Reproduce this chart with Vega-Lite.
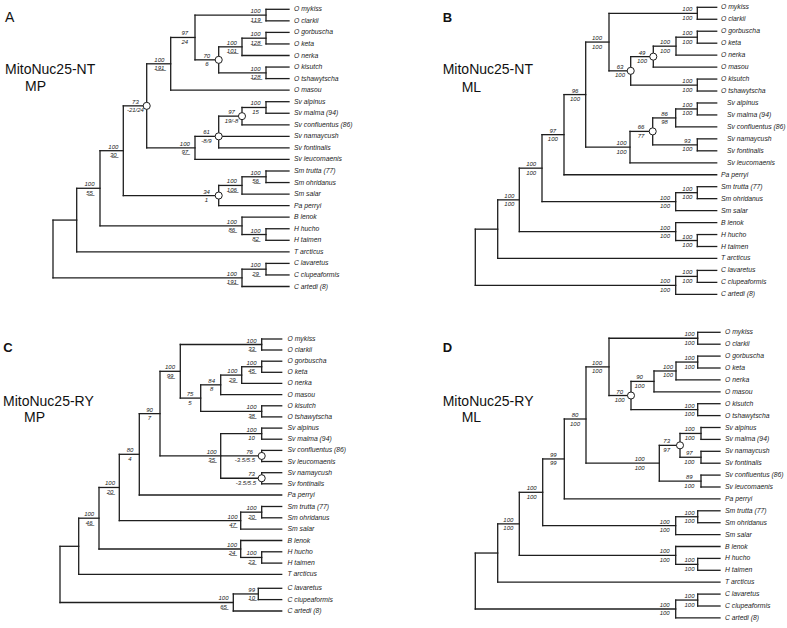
{
"$schema": "https://vega.github.io/schema/vega-lite/v6.json",
"width": 787, "height": 628,
"autosize": {"type": "fit", "contains": "padding"},
"padding": 0,
"background": "white",
"config": {"view": {"stroke": null}},
"datasets": {
"seg": [
{"x":266,"y":9.3,"x2":266,"y2":20.85},{"x":266,"y":9.3,"x2":289,"y2":9.3},{"x":266,"y":20.85,"x2":289,"y2":20.85},
{"x":266,"y":32.4,"x2":266,"y2":43.95},{"x":266,"y":32.4,"x2":289,"y2":32.4},{"x":266,"y":43.95,"x2":289,"y2":43.95},
{"x":242,"y":38.18,"x2":242,"y2":55.5},{"x":242,"y":38.18,"x2":266,"y2":38.18},{"x":242,"y":55.5,"x2":289,"y2":55.5},
{"x":266,"y":67.05,"x2":266,"y2":78.6},{"x":266,"y":67.05,"x2":289,"y2":67.05},{"x":266,"y":78.6,"x2":289,"y2":78.6},
{"x":218.7,"y":46.84,"x2":218.7,"y2":72.83},{"x":218.7,"y":46.84,"x2":242,"y2":46.84},{"x":218.7,"y":72.83,"x2":266,"y2":72.83},
{"x":195,"y":15.08,"x2":195,"y2":59.84},{"x":195,"y":15.08,"x2":266,"y2":15.08},{"x":195,"y":59.84,"x2":218.7,"y2":59.84},
{"x":170.7,"y":37.46,"x2":170.7,"y2":90.15},{"x":170.7,"y":37.46,"x2":195,"y2":37.46},{"x":170.7,"y":90.15,"x2":289,"y2":90.15},
{"x":266,"y":101.7,"x2":266,"y2":113.25},{"x":266,"y":101.7,"x2":289,"y2":101.7},{"x":266,"y":113.25,"x2":289,"y2":113.25},
{"x":242,"y":107.48,"x2":242,"y2":124.8},{"x":242,"y":107.48,"x2":266,"y2":107.48},{"x":242,"y":124.8,"x2":289,"y2":124.8},
{"x":218.7,"y":116.14,"x2":218.7,"y2":147.9},{"x":218.7,"y":116.14,"x2":242,"y2":116.14},{"x":218.7,"y":136.35,"x2":289,"y2":136.35},{"x":218.7,"y":147.9,"x2":289,"y2":147.9},
{"x":195,"y":136.35,"x2":195,"y2":159.45},{"x":195,"y":136.35,"x2":218.7,"y2":136.35},{"x":195,"y":159.45,"x2":289,"y2":159.45},
{"x":146.7,"y":63.8,"x2":146.7,"y2":147.9},{"x":146.7,"y":63.8,"x2":170.7,"y2":63.8},{"x":146.7,"y":147.9,"x2":195,"y2":147.9},
{"x":266,"y":171,"x2":266,"y2":182.55},{"x":266,"y":171,"x2":289,"y2":171},{"x":266,"y":182.55,"x2":289,"y2":182.55},
{"x":242,"y":176.78,"x2":242,"y2":194.1},{"x":242,"y":176.78,"x2":266,"y2":176.78},{"x":242,"y":194.1,"x2":289,"y2":194.1},
{"x":218.7,"y":185.44,"x2":218.7,"y2":205.65},{"x":218.7,"y":185.44,"x2":242,"y2":185.44},{"x":218.7,"y":205.65,"x2":289,"y2":205.65},
{"x":123.3,"y":105.85,"x2":123.3,"y2":195.55},{"x":123.3,"y":105.85,"x2":146.7,"y2":105.85},{"x":123.3,"y":195.55,"x2":218.7,"y2":195.55},
{"x":266,"y":228.75,"x2":266,"y2":240.3},{"x":266,"y":228.75,"x2":289,"y2":228.75},{"x":266,"y":240.3,"x2":289,"y2":240.3},
{"x":242,"y":217.2,"x2":242,"y2":234.53},{"x":242,"y":217.2,"x2":289,"y2":217.2},{"x":242,"y":234.53,"x2":266,"y2":234.53},
{"x":100,"y":150.7,"x2":100,"y2":225.86},{"x":100,"y":150.7,"x2":123.3,"y2":150.7},{"x":100,"y":225.86,"x2":242,"y2":225.86},
{"x":76.7,"y":188.28,"x2":76.7,"y2":251.85},{"x":76.7,"y":188.28,"x2":100,"y2":188.28},{"x":76.7,"y":251.85,"x2":289,"y2":251.85},
{"x":266,"y":263.4,"x2":266,"y2":274.95},{"x":266,"y":263.4,"x2":289,"y2":263.4},{"x":266,"y":274.95,"x2":289,"y2":274.95},
{"x":242,"y":269.18,"x2":242,"y2":286.5},{"x":242,"y":269.18,"x2":266,"y2":269.18},{"x":242,"y":286.5,"x2":289,"y2":286.5},
{"x":53,"y":220.07,"x2":53,"y2":277.84},{"x":53,"y":220.07,"x2":76.7,"y2":220.07},{"x":53,"y":277.84,"x2":242,"y2":277.84},

{"x":697.3,"y":7.3,"x2":697.3,"y2":19.26},{"x":697.3,"y":7.3,"x2":716.7,"y2":7.3},{"x":697.3,"y":19.26,"x2":716.7,"y2":19.26},
{"x":697.3,"y":31.22,"x2":697.3,"y2":43.18},{"x":697.3,"y":31.22,"x2":716.7,"y2":31.22},{"x":697.3,"y":43.18,"x2":716.7,"y2":43.18},
{"x":676,"y":37.2,"x2":676,"y2":55.14},{"x":676,"y":37.2,"x2":697.3,"y2":37.2},{"x":676,"y":55.14,"x2":716.7,"y2":55.14},
{"x":653.3,"y":46.17,"x2":653.3,"y2":67.1},{"x":653.3,"y":46.17,"x2":676,"y2":46.17},{"x":653.3,"y":67.1,"x2":716.7,"y2":67.1},
{"x":697.3,"y":79.06,"x2":697.3,"y2":91.02},{"x":697.3,"y":79.06,"x2":716.7,"y2":79.06},{"x":697.3,"y":91.02,"x2":716.7,"y2":91.02},
{"x":630.7,"y":56.64,"x2":630.7,"y2":85.04},{"x":630.7,"y":56.64,"x2":653.3,"y2":56.64},{"x":630.7,"y":85.04,"x2":697.3,"y2":85.04},
{"x":609,"y":13.28,"x2":609,"y2":70.84},{"x":609,"y":13.28,"x2":697.3,"y2":13.28},{"x":609,"y":70.84,"x2":630.7,"y2":70.84},
{"x":697.3,"y":102.98,"x2":697.3,"y2":114.94},{"x":697.3,"y":102.98,"x2":716.7,"y2":102.98},{"x":697.3,"y":114.94,"x2":716.7,"y2":114.94},
{"x":675.7,"y":108.96,"x2":675.7,"y2":126.9},{"x":675.7,"y":108.96,"x2":697.3,"y2":108.96},{"x":675.7,"y":126.9,"x2":716.7,"y2":126.9},
{"x":697.3,"y":138.86,"x2":697.3,"y2":150.82},{"x":697.3,"y":138.86,"x2":716.7,"y2":138.86},{"x":697.3,"y":150.82,"x2":716.7,"y2":150.82},
{"x":652.7,"y":117.93,"x2":652.7,"y2":144.84},{"x":652.7,"y":117.93,"x2":675.7,"y2":117.93},{"x":652.7,"y":144.84,"x2":697.3,"y2":144.84},
{"x":630,"y":131.39,"x2":630,"y2":162.78},{"x":630,"y":131.39,"x2":652.7,"y2":131.39},{"x":630,"y":162.78,"x2":716.7,"y2":162.78},
{"x":585.7,"y":42.06,"x2":585.7,"y2":147.09},{"x":585.7,"y":42.06,"x2":609,"y2":42.06},{"x":585.7,"y":147.09,"x2":630,"y2":147.09},
{"x":564,"y":94.57,"x2":564,"y2":174.74},{"x":564,"y":94.57,"x2":585.7,"y2":94.57},{"x":564,"y":174.74,"x2":716.7,"y2":174.74},
{"x":697.3,"y":186.7,"x2":697.3,"y2":198.66},{"x":697.3,"y":186.7,"x2":716.7,"y2":186.7},{"x":697.3,"y":198.66,"x2":716.7,"y2":198.66},
{"x":675.7,"y":192.68,"x2":675.7,"y2":210.62},{"x":675.7,"y":192.68,"x2":697.3,"y2":192.68},{"x":675.7,"y":210.62,"x2":716.7,"y2":210.62},
{"x":542,"y":134.66,"x2":542,"y2":201.65},{"x":542,"y":134.66,"x2":564,"y2":134.66},{"x":542,"y":201.65,"x2":675.7,"y2":201.65},
{"x":697.3,"y":234.54,"x2":697.3,"y2":246.5},{"x":697.3,"y":234.54,"x2":716.7,"y2":234.54},{"x":697.3,"y":246.5,"x2":716.7,"y2":246.5},
{"x":675.7,"y":222.58,"x2":675.7,"y2":240.52},{"x":675.7,"y":222.58,"x2":716.7,"y2":222.58},{"x":675.7,"y":240.52,"x2":697.3,"y2":240.52},
{"x":519.3,"y":168.16,"x2":519.3,"y2":231.55},{"x":519.3,"y":168.16,"x2":542,"y2":168.16},{"x":519.3,"y":231.55,"x2":675.7,"y2":231.55},
{"x":497.7,"y":199.86,"x2":497.7,"y2":258.46},{"x":497.7,"y":199.86,"x2":519.3,"y2":199.86},{"x":497.7,"y":258.46,"x2":716.7,"y2":258.46},
{"x":697.3,"y":270.42,"x2":697.3,"y2":282.38},{"x":697.3,"y":270.42,"x2":716.7,"y2":270.42},{"x":697.3,"y":282.38,"x2":716.7,"y2":282.38},
{"x":675.7,"y":276.4,"x2":675.7,"y2":294.34},{"x":675.7,"y":276.4,"x2":697.3,"y2":276.4},{"x":675.7,"y":294.34,"x2":716.7,"y2":294.34},
{"x":475.3,"y":229.16,"x2":475.3,"y2":285.37},{"x":475.3,"y":229.16,"x2":497.7,"y2":229.16},{"x":475.3,"y":285.37,"x2":675.7,"y2":285.37},

{"x":261.7,"y":339,"x2":261.7,"y2":350},{"x":261.7,"y":339,"x2":281.7,"y2":339},{"x":261.7,"y":350,"x2":281.7,"y2":350},
{"x":261.7,"y":361.2,"x2":261.7,"y2":372.3},{"x":261.7,"y":361.2,"x2":281.7,"y2":361.2},{"x":261.7,"y":372.3,"x2":281.7,"y2":372.3},
{"x":241.7,"y":366.75,"x2":241.7,"y2":383.4},{"x":241.7,"y":366.75,"x2":261.7,"y2":366.75},{"x":241.7,"y":383.4,"x2":281.7,"y2":383.4},
{"x":220.7,"y":375.08,"x2":220.7,"y2":394.6},{"x":220.7,"y":375.08,"x2":241.7,"y2":375.08},{"x":220.7,"y":394.6,"x2":281.7,"y2":394.6},
{"x":261.7,"y":405.8,"x2":261.7,"y2":416.9},{"x":261.7,"y":405.8,"x2":281.7,"y2":405.8},{"x":261.7,"y":416.9,"x2":281.7,"y2":416.9},
{"x":200.7,"y":384.84,"x2":200.7,"y2":411.35},{"x":200.7,"y":384.84,"x2":220.7,"y2":384.84},{"x":200.7,"y":411.35,"x2":261.7,"y2":411.35},
{"x":180.3,"y":344.5,"x2":180.3,"y2":398.1},{"x":180.3,"y":344.5,"x2":261.7,"y2":344.5},{"x":180.3,"y":398.1,"x2":200.7,"y2":398.1},
{"x":261.7,"y":428.1,"x2":261.7,"y2":439.2},{"x":261.7,"y":428.1,"x2":281.7,"y2":428.1},{"x":261.7,"y":439.2,"x2":281.7,"y2":439.2},
{"x":261.7,"y":450.4,"x2":261.7,"y2":461.5},{"x":261.7,"y":450.4,"x2":281.7,"y2":450.4},{"x":261.7,"y":461.5,"x2":281.7,"y2":461.5},
{"x":261.7,"y":472.7,"x2":261.7,"y2":483.8},{"x":261.7,"y":472.7,"x2":281.7,"y2":472.7},{"x":261.7,"y":483.8,"x2":281.7,"y2":483.8},
{"x":220.7,"y":433.65,"x2":220.7,"y2":478.25},{"x":220.7,"y":433.65,"x2":261.7,"y2":433.65},{"x":220.7,"y":455.95,"x2":261.7,"y2":455.95},{"x":220.7,"y":478.25,"x2":261.7,"y2":478.25},
{"x":160,"y":371.3,"x2":160,"y2":455.95},{"x":160,"y":371.3,"x2":180.3,"y2":371.3},{"x":160,"y":455.95,"x2":220.7,"y2":455.95},
{"x":139.3,"y":413.63,"x2":139.3,"y2":495},{"x":139.3,"y":413.63,"x2":160,"y2":413.63},{"x":139.3,"y":495,"x2":281.7,"y2":495},
{"x":261.7,"y":506.5,"x2":261.7,"y2":517.8},{"x":261.7,"y":506.5,"x2":281.7,"y2":506.5},{"x":261.7,"y":517.8,"x2":281.7,"y2":517.8},
{"x":240.7,"y":512.15,"x2":240.7,"y2":529.1},{"x":240.7,"y":512.15,"x2":261.7,"y2":512.15},{"x":240.7,"y":529.1,"x2":281.7,"y2":529.1},
{"x":119.3,"y":454.3,"x2":119.3,"y2":520.63},{"x":119.3,"y":454.3,"x2":139.3,"y2":454.3},{"x":119.3,"y":520.63,"x2":240.7,"y2":520.63},
{"x":261.7,"y":551.8,"x2":261.7,"y2":563.1},{"x":261.7,"y":551.8,"x2":281.7,"y2":551.8},{"x":261.7,"y":563.1,"x2":281.7,"y2":563.1},
{"x":240.7,"y":540.5,"x2":240.7,"y2":557.45},{"x":240.7,"y":540.5,"x2":281.7,"y2":540.5},{"x":240.7,"y":557.45,"x2":261.7,"y2":557.45},
{"x":99,"y":487.47,"x2":99,"y2":548.98},{"x":99,"y":487.47,"x2":119.3,"y2":487.47},{"x":99,"y":548.98,"x2":240.7,"y2":548.98},
{"x":78.7,"y":518.2,"x2":78.7,"y2":574.4},{"x":78.7,"y":518.2,"x2":99,"y2":518.2},{"x":78.7,"y":574.4,"x2":281.7,"y2":574.4},
{"x":258.3,"y":588.3,"x2":258.3,"y2":599.6},{"x":258.3,"y":588.3,"x2":281.7,"y2":588.3},{"x":258.3,"y":599.6,"x2":281.7,"y2":599.6},
{"x":233.3,"y":593.95,"x2":233.3,"y2":611},{"x":233.3,"y":593.95,"x2":258.3,"y2":593.95},{"x":233.3,"y":611,"x2":281.7,"y2":611},
{"x":60,"y":546.3,"x2":60,"y2":602.48},{"x":60,"y":546.3,"x2":78.7,"y2":546.3},{"x":60,"y":602.48,"x2":233.3,"y2":602.48},

{"x":697.7,"y":332.3,"x2":697.7,"y2":344.2},{"x":697.7,"y":332.3,"x2":720,"y2":332.3},{"x":697.7,"y":344.2,"x2":720,"y2":344.2},
{"x":697.7,"y":356.1,"x2":697.7,"y2":368},{"x":697.7,"y":356.1,"x2":720,"y2":356.1},{"x":697.7,"y":368,"x2":720,"y2":368},
{"x":676,"y":362.05,"x2":676,"y2":379.9},{"x":676,"y":362.05,"x2":697.7,"y2":362.05},{"x":676,"y":379.9,"x2":720,"y2":379.9},
{"x":654,"y":370.98,"x2":654,"y2":391.8},{"x":654,"y":370.98,"x2":676,"y2":370.98},{"x":654,"y":391.8,"x2":720,"y2":391.8},
{"x":697.7,"y":403.7,"x2":697.7,"y2":415.6},{"x":697.7,"y":403.7,"x2":720,"y2":403.7},{"x":697.7,"y":415.6,"x2":720,"y2":415.6},
{"x":631,"y":381.39,"x2":631,"y2":409.65},{"x":631,"y":381.39,"x2":654,"y2":381.39},{"x":631,"y":409.65,"x2":697.7,"y2":409.65},
{"x":609,"y":338.25,"x2":609,"y2":395.52},{"x":609,"y":338.25,"x2":697.7,"y2":338.25},{"x":609,"y":395.52,"x2":631,"y2":395.52},
{"x":701,"y":427.5,"x2":701,"y2":439.4},{"x":701,"y":427.5,"x2":720,"y2":427.5},{"x":701,"y":439.4,"x2":720,"y2":439.4},
{"x":701,"y":451.3,"x2":701,"y2":463.2},{"x":701,"y":451.3,"x2":720,"y2":451.3},{"x":701,"y":463.2,"x2":720,"y2":463.2},
{"x":680,"y":433.45,"x2":680,"y2":457.25},{"x":680,"y":433.45,"x2":701,"y2":433.45},{"x":680,"y":457.25,"x2":701,"y2":457.25},
{"x":701,"y":475.1,"x2":701,"y2":487},{"x":701,"y":475.1,"x2":720,"y2":475.1},{"x":701,"y":487,"x2":720,"y2":487},
{"x":659.3,"y":445.35,"x2":659.3,"y2":481.05},{"x":659.3,"y":445.35,"x2":680,"y2":445.35},{"x":659.3,"y":481.05,"x2":701,"y2":481.05},
{"x":586,"y":366.89,"x2":586,"y2":463.2},{"x":586,"y":366.89,"x2":609,"y2":366.89},{"x":586,"y":463.2,"x2":659.3,"y2":463.2},
{"x":564.3,"y":419,"x2":564.3,"y2":498.9},{"x":564.3,"y":419,"x2":586,"y2":419},{"x":564.3,"y":498.9,"x2":720,"y2":498.9},
{"x":697.7,"y":510.8,"x2":697.7,"y2":522.7},{"x":697.7,"y":510.8,"x2":720,"y2":510.8},{"x":697.7,"y":522.7,"x2":720,"y2":522.7},
{"x":675.7,"y":516.75,"x2":675.7,"y2":534.6},{"x":675.7,"y":516.75,"x2":697.7,"y2":516.75},{"x":675.7,"y":534.6,"x2":720,"y2":534.6},
{"x":542.7,"y":458.95,"x2":542.7,"y2":525.68},{"x":542.7,"y":458.95,"x2":564.3,"y2":458.95},{"x":542.7,"y":525.68,"x2":675.7,"y2":525.68},
{"x":697.7,"y":558.4,"x2":697.7,"y2":570.3},{"x":697.7,"y":558.4,"x2":720,"y2":558.4},{"x":697.7,"y":570.3,"x2":720,"y2":570.3},
{"x":675.7,"y":546.5,"x2":675.7,"y2":564.35},{"x":675.7,"y":546.5,"x2":720,"y2":546.5},{"x":675.7,"y":564.35,"x2":697.7,"y2":564.35},
{"x":519.3,"y":492.3,"x2":519.3,"y2":555.43},{"x":519.3,"y":492.3,"x2":542.7,"y2":492.3},{"x":519.3,"y":555.43,"x2":675.7,"y2":555.43},
{"x":497.7,"y":523.87,"x2":497.7,"y2":582.2},{"x":497.7,"y":523.87,"x2":519.3,"y2":523.87},{"x":497.7,"y":582.2,"x2":720,"y2":582.2},
{"x":697.7,"y":594.1,"x2":697.7,"y2":606},{"x":697.7,"y":594.1,"x2":720,"y2":594.1},{"x":697.7,"y":606,"x2":720,"y2":606},
{"x":675.7,"y":600.05,"x2":675.7,"y2":617.9},{"x":675.7,"y":600.05,"x2":697.7,"y2":600.05},{"x":675.7,"y":617.9,"x2":720,"y2":617.9},
{"x":475.3,"y":553.03,"x2":475.3,"y2":608.98},{"x":475.3,"y":553.03,"x2":497.7,"y2":553.03},{"x":475.3,"y":608.98,"x2":675.7,"y2":608.98}
],
"circ": [
{"x":218.7,"y":59.84},{"x":242,"y":116.14},{"x":218.7,"y":136.35},{"x":146.7,"y":105.85},{"x":218.7,"y":195.55},
{"x":653.3,"y":56.64},{"x":630.7,"y":70.84},{"x":652.7,"y":131.39},
{"x":261.7,"y":455.95},{"x":261.7,"y":478.25},
{"x":631,"y":395.52},{"x":680,"y":445.35}
],
"sup": [
{"xu":255.5,"xd":255.5,"y":15.08,"u":"100","d":"1\u03321\u03329\u0332"},
{"xu":255.5,"xd":255.5,"y":38.18,"u":"100","d":"1\u03322\u03328\u0332"},
{"xu":231.8,"xd":231.8,"y":46.84,"u":"100","d":"1\u03320\u03321\u0332"},
{"xu":255.5,"xd":255.5,"y":72.83,"u":"100","d":"1\u03322\u03328\u0332"},
{"xu":206.8,"xd":206.8,"y":59.84,"u":"70","d":"6"},
{"xu":184.8,"xd":184.8,"y":37.46,"u":"97","d":"24"},
{"xu":159.3,"xd":159.3,"y":63.8,"u":"100","d":"1\u03329\u03321\u0332"},
{"xu":255.5,"xd":255.5,"y":107.48,"u":"100","d":"15"},
{"xu":231.5,"xd":231.5,"y":116.14,"u":"97","d":"19/-8"},
{"xu":206.5,"xd":206.5,"y":136.35,"u":"61","d":"-8/9"},
{"xu":184.8,"xd":184.8,"y":147.9,"u":"100","d":"9\u03327\u0332"},
{"xu":135.4,"xd":135.4,"y":105.85,"u":"73","d":"-21/24"},
{"xu":255.5,"xd":255.5,"y":176.78,"u":"100","d":"5\u03326\u0332"},
{"xu":231.8,"xd":231.8,"y":185.44,"u":"100","d":"1\u03320\u03326\u0332"},
{"xu":206.5,"xd":206.5,"y":195.55,"u":"34","d":"1"},
{"xu":113.3,"xd":113.3,"y":150.7,"u":"100","d":"3\u03320\u0332"},
{"xu":255.5,"xd":255.5,"y":234.53,"u":"100","d":"8\u03322\u0332"},
{"xu":231.8,"xd":231.8,"y":225.86,"u":"100","d":"8\u03326\u0332"},
{"xu":89.5,"xd":89.5,"y":188.28,"u":"100","d":"5\u03325\u0332"},
{"xu":255.5,"xd":255.5,"y":269.18,"u":"100","d":"2\u03329\u0332"},
{"xu":231.8,"xd":231.8,"y":277.84,"u":"100","d":"1\u03329\u03321\u0332"},

{"xu":687.3,"xd":687.3,"y":13.28,"u":"100","d":"100"},
{"xu":687.3,"xd":687.3,"y":37.2,"u":"100","d":"100"},
{"xu":665,"xd":665,"y":46.17,"u":"100","d":"100"},
{"xu":642,"xd":642,"y":56.64,"u":"49","d":"100"},
{"xu":687.3,"xd":687.3,"y":85.04,"u":"100","d":"100"},
{"xu":620,"xd":620,"y":70.84,"u":"63","d":"100"},
{"xu":597,"xd":597,"y":42.06,"u":"100","d":"100"},
{"xu":687.3,"xd":687.3,"y":108.96,"u":"100","d":"100"},
{"xu":664.5,"xd":664.5,"y":117.93,"u":"86","d":"98"},
{"xu":687.3,"xd":687.3,"y":144.84,"u":"93","d":"100"},
{"xu":641,"xd":641,"y":131.39,"u":"66","d":"77"},
{"xu":621.5,"xd":621.5,"y":147.09,"u":"100","d":"100"},
{"xu":575,"xd":575,"y":94.57,"u":"96","d":"100"},
{"xu":552.8,"xd":552.8,"y":134.66,"u":"97","d":"100"},
{"xu":687.3,"xd":687.3,"y":192.68,"u":"100","d":"100"},
{"xu":665,"xd":665,"y":201.65,"u":"100","d":"100"},
{"xu":531.2,"xd":531.2,"y":168.16,"u":"100","d":"100"},
{"xu":687.3,"xd":687.3,"y":240.52,"u":"100","d":"100"},
{"xu":665,"xd":665,"y":231.55,"u":"100","d":"100"},
{"xu":509.3,"xd":509.3,"y":199.86,"u":"100","d":"100"},
{"xu":687.3,"xd":687.3,"y":276.4,"u":"100","d":"100"},
{"xu":665,"xd":665,"y":285.37,"u":"100","d":"100"},

{"xu":251.5,"xd":251.5,"y":344.5,"u":"100","d":"3\u03323\u0332"},
{"xu":251.5,"xd":251.5,"y":366.75,"u":"100","d":"4\u03325\u0332"},
{"xu":232.3,"xd":232.3,"y":375.08,"u":"100","d":"2\u03329\u0332"},
{"xu":211.7,"xd":211.7,"y":384.84,"u":"84","d":"8"},
{"xu":251.5,"xd":251.5,"y":411.35,"u":"100","d":"3\u03328\u0332"},
{"xu":190,"xd":190,"y":398.1,"u":"75","d":"5"},
{"xu":170,"xd":170,"y":371.3,"u":"100","d":"9\u03329\u0332"},
{"xu":251.5,"xd":251.5,"y":433.65,"u":"100","d":"10"},
{"xu":249.5,"xd":245,"y":455.95,"u":"76","d":"-3.5/5.5"},
{"xu":251.5,"xd":246,"y":478.25,"u":"73","d":"-3.5/5.5"},
{"xu":211.7,"xd":211.7,"y":455.95,"u":"100","d":"3\u03325\u0332"},
{"xu":149.5,"xd":149.5,"y":413.63,"u":"90","d":"7"},
{"xu":130,"xd":130,"y":454.3,"u":"80","d":"4"},
{"xu":251.5,"xd":251.5,"y":512.15,"u":"100","d":"2\u03320\u0332"},
{"xu":232.5,"xd":232.5,"y":520.63,"u":"100","d":"4\u03327\u0332"},
{"xu":110,"xd":110,"y":487.47,"u":"100","d":"2\u03320\u0332"},
{"xu":251.5,"xd":251.5,"y":557.45,"u":"100","d":"2\u03323\u0332"},
{"xu":232,"xd":232,"y":548.98,"u":"100","d":"2\u03324\u0332"},
{"xu":89.2,"xd":89.2,"y":518.2,"u":"100","d":"4\u03326\u0332"},
{"xu":251.7,"xd":251.7,"y":593.95,"u":"99","d":"1\u03320\u0332"},
{"xu":223.5,"xd":223.5,"y":602.48,"u":"100","d":"6\u03325\u0332"},

{"xu":689.5,"xd":689.5,"y":338.25,"u":"100","d":"100"},
{"xu":689.5,"xd":689.5,"y":362.05,"u":"100","d":"100"},
{"xu":668,"xd":668,"y":370.98,"u":"100","d":"100"},
{"xu":639.5,"xd":639.5,"y":381.39,"u":"90","d":"100"},
{"xu":689.5,"xd":689.5,"y":409.65,"u":"100","d":"100"},
{"xu":619.7,"xd":619.7,"y":395.52,"u":"70","d":"100"},
{"xu":597,"xd":597,"y":366.89,"u":"100","d":"100"},
{"xu":689.7,"xd":689.7,"y":433.45,"u":"100","d":"100"},
{"xu":689.3,"xd":689.3,"y":457.25,"u":"97","d":"100"},
{"xu":666.7,"xd":666.7,"y":445.35,"u":"73","d":"97"},
{"xu":689.3,"xd":689.3,"y":481.05,"u":"89","d":"100"},
{"xu":639.7,"xd":639.7,"y":463.2,"u":"100","d":"100"},
{"xu":575,"xd":575,"y":419,"u":"80","d":"100"},
{"xu":553.3,"xd":553.3,"y":458.95,"u":"99","d":"99"},
{"xu":689.5,"xd":689.5,"y":516.75,"u":"100","d":"100"},
{"xu":664.7,"xd":664.7,"y":525.68,"u":"100","d":"100"},
{"xu":531.7,"xd":531.7,"y":492.3,"u":"100","d":"100"},
{"xu":689.5,"xd":689.5,"y":564.35,"u":"100","d":"100"},
{"xu":664.7,"xd":664.7,"y":555.43,"u":"100","d":"100"},
{"xu":508.3,"xd":508.3,"y":523.87,"u":"100","d":"100"},
{"xu":689.5,"xd":689.5,"y":600.05,"u":"100","d":"100"},
{"xu":664.7,"xd":664.7,"y":608.98,"u":"100","d":"100"}
],
"taxa": [
{"x":294,"y":9.3,"n":"O mykiss"},{"x":294,"y":20.85,"n":"O clarkii"},{"x":294,"y":32.4,"n":"O gorbuscha"},{"x":294,"y":43.95,"n":"O keta"},{"x":294,"y":55.5,"n":"O nerka"},{"x":294,"y":67.05,"n":"O kisutch"},{"x":294,"y":78.6,"n":"O tshawytscha"},{"x":294,"y":90.15,"n":"O masou"},{"x":294,"y":101.7,"n":"Sv alpinus"},{"x":294,"y":113.25,"n":"Sv malma (94)"},{"x":294,"y":124.8,"n":"Sv confluentus (86)"},{"x":294,"y":136.35,"n":"Sv namaycush"},{"x":294,"y":147.9,"n":"Sv fontinalis"},{"x":294,"y":159.45,"n":"Sv leucomaenis"},{"x":294,"y":171,"n":"Sm trutta (77)"},{"x":294,"y":182.55,"n":"Sm ohridanus"},{"x":294,"y":194.1,"n":"Sm salar"},{"x":294,"y":205.65,"n":"Pa perryi"},{"x":294,"y":217.2,"n":"B lenok"},{"x":294,"y":228.75,"n":"H hucho"},{"x":294,"y":240.3,"n":"H taimen"},{"x":294,"y":251.85,"n":"T arcticus"},{"x":294,"y":263.4,"n":"C lavaretus"},{"x":294,"y":274.95,"n":"C clupeaformis"},{"x":294,"y":286.5,"n":"C artedi (8)"},
{"x":721,"y":7.3,"n":"O mykiss"},{"x":721,"y":19.26,"n":"O clarkii"},{"x":721,"y":31.22,"n":"O gorbuscha"},{"x":721,"y":43.18,"n":"O keta"},{"x":721,"y":55.14,"n":"O nerka"},{"x":721,"y":67.1,"n":"O masou"},{"x":721,"y":79.06,"n":"O kisutch"},{"x":721,"y":91.02,"n":"O tshawytscha"},{"x":727,"y":102.98,"n":"Sv alpinus"},{"x":727,"y":114.94,"n":"Sv malma (94)"},{"x":727,"y":126.9,"n":"Sv confluentus (86)"},{"x":727,"y":138.86,"n":"Sv namaycush"},{"x":727,"y":150.82,"n":"Sv fontinalis"},{"x":727,"y":162.78,"n":"Sv leucomaenis"},{"x":721,"y":174.74,"n":"Pa perryi"},{"x":721,"y":186.7,"n":"Sm trutta (77)"},{"x":721,"y":198.66,"n":"Sm ohridanus"},{"x":721,"y":210.62,"n":"Sm salar"},{"x":721,"y":222.58,"n":"B lenok"},{"x":721,"y":234.54,"n":"H hucho"},{"x":721,"y":246.5,"n":"H taimen"},{"x":721,"y":258.46,"n":"T arcticus"},{"x":721,"y":270.42,"n":"C lavaretus"},{"x":721,"y":282.38,"n":"C clupeaformis"},{"x":721,"y":294.34,"n":"C artedi (8)"},
{"x":287.5,"y":339,"n":"O mykiss"},{"x":287.5,"y":350,"n":"O clarkii"},{"x":287.5,"y":361.2,"n":"O gorbuscha"},{"x":287.5,"y":372.3,"n":"O keta"},{"x":287.5,"y":383.4,"n":"O nerka"},{"x":287.5,"y":394.6,"n":"O masou"},{"x":287.5,"y":405.8,"n":"O kisutch"},{"x":287.5,"y":416.9,"n":"O tshawytscha"},{"x":287.5,"y":428.1,"n":"Sv alpinus"},{"x":287.5,"y":439.2,"n":"Sv malma (94)"},{"x":287.5,"y":450.4,"n":"Sv confluentus (86)"},{"x":287.5,"y":461.5,"n":"Sv leucomaenis"},{"x":287.5,"y":472.7,"n":"Sv namaycush"},{"x":287.5,"y":483.8,"n":"Sv fontinalis"},{"x":287.5,"y":495,"n":"Pa perryi"},{"x":287.5,"y":506.5,"n":"Sm trutta (77)"},{"x":287.5,"y":517.8,"n":"Sm ohridanus"},{"x":287.5,"y":529.1,"n":"Sm salar"},{"x":287.5,"y":540.5,"n":"B lenok"},{"x":287.5,"y":551.8,"n":"H hucho"},{"x":287.5,"y":563.1,"n":"H taimen"},{"x":287.5,"y":574.4,"n":"T arcticus"},{"x":287.5,"y":588.3,"n":"C lavaretus"},{"x":287.5,"y":599.6,"n":"C clupeaformis"},{"x":287.5,"y":611,"n":"C artedi (8)"},
{"x":725,"y":332.3,"n":"O mykiss"},{"x":725,"y":344.2,"n":"O clarkii"},{"x":725,"y":356.1,"n":"O gorbuscha"},{"x":725,"y":368,"n":"O keta"},{"x":725,"y":379.9,"n":"O nerka"},{"x":725,"y":391.8,"n":"O masou"},{"x":725,"y":403.7,"n":"O kisutch"},{"x":725,"y":415.6,"n":"O tshawytscha"},{"x":725,"y":427.5,"n":"Sv alpinus"},{"x":725,"y":439.4,"n":"Sv malma (94)"},{"x":725,"y":451.3,"n":"Sv namaycush"},{"x":725,"y":463.2,"n":"Sv fontinalis"},{"x":725,"y":475.1,"n":"Sv confluentus (86)"},{"x":725,"y":487,"n":"Sv leucomaenis"},{"x":725,"y":498.9,"n":"Pa perryi"},{"x":725,"y":510.8,"n":"Sm trutta (77)"},{"x":725,"y":522.7,"n":"Sm ohridanus"},{"x":725,"y":534.6,"n":"Sm salar"},{"x":725,"y":546.5,"n":"B lenok"},{"x":725,"y":558.4,"n":"H hucho"},{"x":725,"y":570.3,"n":"H taimen"},{"x":725,"y":582.2,"n":"T arcticus"},{"x":725,"y":594.1,"n":"C lavaretus"},{"x":725,"y":606,"n":"C clupeaformis"},{"x":725,"y":617.9,"n":"C artedi (8)"}
],
"heads": [
{"x":5,"y":21.7,"t":"A"},
{"x":5,"y":74,"t":"MitoNuc25-NT"},{"x":25,"y":90.7,"t":"MP"},
{"x":442.7,"y":74,"t":"MitoNuc25-NT"},{"x":461.7,"y":91.7,"t":"ML"},
{"x":3,"y":406,"t":"MitoNuc25-RY"},{"x":24,"y":422.3,"t":"MP"},
{"x":442.7,"y":406,"t":"MitoNuc25-RY"},{"x":461.7,"y":422.3,"t":"ML"}
],
"letters": [
{"x":442.7,"y":21.7,"t":"B"},{"x":3.3,"y":351.7,"t":"C"},{"x":442.7,"y":352.3,"t":"D"}
]
},
"layer": [
{"data": {"name": "seg"},
 "mark": {"type": "rule", "stroke": "#1e1e1e", "strokeWidth": 1.3, "strokeCap": "square"},
 "encoding": {
  "x": {"field": "x", "type": "quantitative", "scale": {"domain": [0, 787], "nice": false, "zero": false}, "axis": null},
  "y": {"field": "y", "type": "quantitative", "scale": {"domain": [0, 628], "nice": false, "zero": false, "reverse": true}, "axis": null},
  "x2": {"field": "x2"}, "y2": {"field": "y2"}}},
{"data": {"name": "circ"},
 "mark": {"type": "point", "shape": "circle", "filled": true, "fill": "white", "stroke": "#1e1e1e", "strokeWidth": 1, "size": 50, "opacity": 1},
 "encoding": {
  "x": {"field": "x", "type": "quantitative", "axis": null},
  "y": {"field": "y", "type": "quantitative", "axis": null}}},
{"data": {"name": "sup"},
 "mark": {"type": "text", "font": "Liberation Sans", "fontStyle": "italic", "fontSize": 6, "align": "center", "baseline": "middle", "dy": -4, "fill": "#1a1a1a"},
 "encoding": {
  "x": {"field": "xu", "type": "quantitative", "axis": null},
  "y": {"field": "y", "type": "quantitative", "axis": null},
  "text": {"field": "u"}}},
{"data": {"name": "sup"},
 "mark": {"type": "text", "font": "Liberation Sans", "fontStyle": "italic", "fontSize": 6, "align": "center", "baseline": "middle", "dy": 4.5, "fill": "#1a1a1a"},
 "encoding": {
  "x": {"field": "xd", "type": "quantitative", "axis": null},
  "y": {"field": "y", "type": "quantitative", "axis": null},
  "text": {"field": "d"}}},
{"data": {"name": "taxa"},
 "mark": {"type": "text", "font": "Liberation Sans", "fontStyle": "italic", "fontSize": 6.8, "align": "left", "baseline": "middle", "fill": "#1a1a1a"},
 "encoding": {
  "x": {"field": "x", "type": "quantitative", "axis": null},
  "y": {"field": "y", "type": "quantitative", "axis": null},
  "text": {"field": "n"}}},
{"data": {"name": "heads"},
 "mark": {"type": "text", "font": "Liberation Sans", "fontSize": 14, "align": "left", "baseline": "alphabetic", "fill": "#111111"},
 "encoding": {
  "x": {"field": "x", "type": "quantitative", "axis": null},
  "y": {"field": "y", "type": "quantitative", "axis": null},
  "text": {"field": "t"}}},
{"data": {"name": "letters"},
 "mark": {"type": "text", "font": "Liberation Sans", "fontSize": 13, "fontWeight": "bold", "align": "left", "baseline": "alphabetic", "fill": "#111111"},
 "encoding": {
  "x": {"field": "x", "type": "quantitative", "axis": null},
  "y": {"field": "y", "type": "quantitative", "axis": null},
  "text": {"field": "t"}}}
]
}
